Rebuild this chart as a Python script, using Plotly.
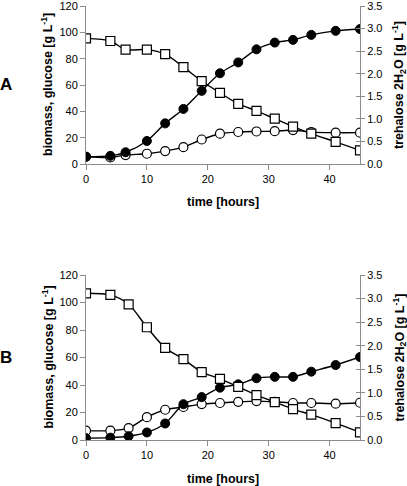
import plotly.graph_objects as go

# ---------------- data ----------------
time_a = [0, 4, 6.5, 10, 13, 16, 19, 22, 25, 28, 31, 34, 37, 41, 45]
time_b = [0, 4, 7, 10, 13, 16, 19, 22, 25, 28, 31, 34, 37, 41, 45]

# Panel A
glucose_a = [95.4, 93.4, 86.9, 86.9, 83.4, 73.6, 63.0, 54.0, 45.7, 40.4, 34.4, 28.4, 23.1, 16.8, 10.3]
biomass_a = [5.5, 5.0, 6.8, 7.8, 9.8, 12.8, 18.6, 23.0, 24.3, 24.7, 24.9, 25.8, 24.2, 23.8, 23.8]
trehalose_a = [0.16, 0.18, 0.26, 0.51, 0.90, 1.22, 1.62, 2.01, 2.25, 2.54, 2.69, 2.75, 2.86, 2.95, 2.99]

# Panel B
glucose_b = [106.7, 105.5, 98.7, 82.0, 67.0, 58.8, 49.4, 44.5, 38.7, 32.7, 27.6, 22.5, 18.4, 12.3, 5.6]
biomass_b = [6.8, 6.8, 8.7, 16.6, 22.0, 24.0, 26.1, 26.9, 27.8, 28.3, 27.8, 26.9, 26.9, 26.4, 27.1]
trehalose_b = [0.04, 0.05, 0.08, 0.16, 0.35, 0.76, 0.91, 1.11, 1.18, 1.31, 1.34, 1.34, 1.45, 1.59, 1.76]

left_ticks = [0, 20, 40, 60, 80, 100, 120]
right_ticks = [0.0, 0.5, 1.0, 1.5, 2.0, 2.5, 3.0, 3.5]
x_ticks = [0, 10, 20, 30, 40]
panel_labels = ["A", "B"]

x_title = "time [hours]"
left_title = "biomass, glucose [g L<sup>-1</sup>]"
right_title = "trehalose 2H<sub>2</sub>O [g L<sup>-1</sup>]"

# ---------------- figure ----------------
FONT = "Liberation Sans, Arial, sans-serif"
AX = "#8c8c8c"
W, H = 407, 486
ML, MR, MT, MB = 86, 47, 6, 46
PW, PH = W - ML - MR, H - MT - MB

def px(x):
    return (x - ML) / PW

def py(y):
    return (H - MB - y) / PH

fig = go.Figure()

panels = [
    dict(t=time_a, g=glucose_a, b=biomass_a, tr=trehalose_a,
         x="x", yl="y", yr="y2", ys="y5"),
    dict(t=time_b, g=glucose_b, b=biomass_b, tr=trehalose_b,
         x="x2", yl="y3", yr="y4", ys="y6"),
]

line = dict(color="black", width=1.4, shape="spline", smoothing=0.8)
for p in panels:
    fig.add_trace(go.Scatter(x=p["t"], y=p["b"], mode="lines+markers", line=line,
                             marker=dict(symbol="circle", size=9, color="white",
                                         line=dict(color="black", width=1.2)),
                             xaxis=p["x"], yaxis=p["yl"], showlegend=False))
    fig.add_trace(go.Scatter(x=p["t"], y=p["tr"], mode="lines+markers", line=line,
                             marker=dict(symbol="circle", size=9, color="black",
                                         line=dict(color="black", width=1)),
                             xaxis=p["x"], yaxis=p["yr"], showlegend=False))
    fig.add_trace(go.Scatter(x=p["t"], y=p["g"], mode="lines+markers", line=line,
                             marker=dict(symbol="square", size=9, color="white",
                                         line=dict(color="black", width=1.2)),
                             xaxis=p["x"], yaxis=p["ys"], showlegend=False))

tickfont = dict(family=FONT, size=11, color="black")
titlefont = dict(family=FONT, size=12.5, color="black", weight="bold")

dom_a = [py(164), 1.0]
dom_b = [0.0, py(275)]

common = dict(showgrid=False, zeroline=False, automargin=False,
              ticklabeloverflow="allow")

def xax(anchor):
    return dict(domain=[0, 1], anchor=anchor, range=[0, 45], tickvals=x_ticks,
                showline=True, linecolor=AX, linewidth=1, ticks="outside",
                tickcolor=AX, ticklen=5, tickfont=tickfont, **common)

def yleft(anchor, dom):
    return dict(domain=dom, anchor=anchor, range=[0, 120], tickvals=left_ticks,
                showline=True, linecolor=AX, linewidth=1, ticks="outside",
                tickcolor=AX, ticklen=5, tickfont=tickfont, **common)

def yright(anchor, over):
    return dict(anchor=anchor, overlaying=over, side="right", range=[0, 3.5],
                tickvals=right_ticks, tickformat=".1f",
                showline=True, linecolor=AX, linewidth=1, ticks="outside",
                tickcolor=AX, ticklen=4, tickfont=tickfont, **common)

def yspare(anchor, over):
    return dict(anchor=anchor, overlaying=over, side="right", range=[0, 120],
                tickvals=[v * 120 / 3.5 for v in right_ticks],
                showticklabels=False, showline=False, ticks="inside",
                tickcolor=AX, ticklen=4, **common)

fig.update_layout(
    width=W, height=H,
    margin=dict(l=ML, r=MR, t=MT, b=MB),
    paper_bgcolor="white", plot_bgcolor="white",
    xaxis=xax("y"),
    yaxis=yleft("x", dom_a),
    yaxis2=yright("x", "y"),
    yaxis5=yspare("x", "y"),
    xaxis2=xax("y3"),
    yaxis3=yleft("x2", dom_b),
    yaxis4=yright("x2", "y3"),
    yaxis6=yspare("x2", "y3"),
)

# panel letters and axis titles
for lbl, dom, xt_y in zip(panel_labels, [dom_a, dom_b], [202, 479]):
    ymid = (dom[0] + dom[1]) / 2
    fig.add_annotation(text=lbl, xref="paper", yref="paper",
                       x=px(6), y=ymid, xanchor="center", yanchor="middle",
                       showarrow=False,
                       font=dict(family=FONT, size=17, color="black", weight="bold"))
    fig.add_annotation(text=left_title, xref="paper", yref="paper",
                       x=px(47), y=ymid, xanchor="center", yanchor="middle",
                       textangle=-90, showarrow=False, font=titlefont)
    fig.add_annotation(text=right_title, xref="paper", yref="paper",
                       x=px(399), y=ymid, xanchor="center", yanchor="middle",
                       textangle=-90, showarrow=False, font=titlefont)
    fig.add_annotation(text=x_title, xref="paper", yref="paper",
                       x=px(223), y=py(xt_y), xanchor="center", yanchor="middle",
                       showarrow=False, font=titlefont)

fig.write_html("out.html",
               config={"displayModeBar": False},
               post_script="document.body.style.margin='0';document.body.style.overflow='hidden';")
